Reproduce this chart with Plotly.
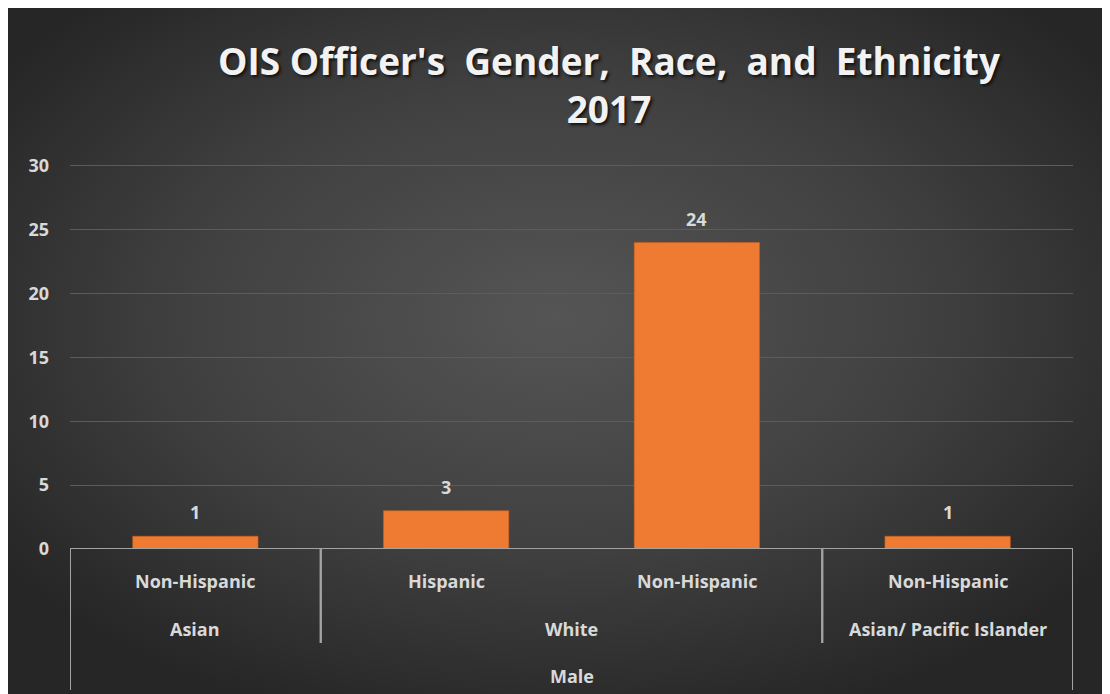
import base64

import plotly.graph_objects as go

# data
gender = ["Male", "Male", "Male", "Male"]
race = ["Asian", "White", "White", "Asian/ Pacific Islander"]
ethnicity = ["Non-Hispanic", "Hispanic", "Non-Hispanic", "Non-Hispanic"]
counts = [1, 3, 24, 1]
y_ticks = [0, 5, 10, 15, 20, 25, 30]

# page has an 8px body margin, so the figure starts at (8, 8)
OFF = 8
W, H = 1094, 686
YMAX = 30.15
ph = (549 - 166) * YMAX / 30
L, R = 70 - OFF, W - (1073 - OFF)
B = H - (549 - OFF)
T = H - B - ph
FONT = "'Open Sans', Lato, sans-serif"
TXT = "#d9d9d9"
LINE = "#a3a3a3"

levels = [ethnicity, race, gender]
keys = [" | ".join(k) for k in zip(gender, race, ethnicity)]


def px_y(py):
    # page pixel -> paper y
    return (H - B - (py - OFF)) / ph


def groups(depth):
    # runs of equal prefixes (outer levels down to `depth`)
    path = [tuple(lv[i] for lv in levels[depth:]) for i in range(len(keys))]
    out = []
    start = 0
    for i in range(1, len(keys) + 1):
        if i == len(keys) or path[i] != path[start]:
            out.append((path[start][0], start, i - 1))
            start = i
    return out


svg = (
    '<svg xmlns="http://www.w3.org/2000/svg" width="1000" height="600" '
    'preserveAspectRatio="none">'
    '<defs><radialGradient id="g" cx="50%" cy="45%" r="62%">'
    '<stop offset="0" stop-color="#555555"/>'
    '<stop offset="0.55" stop-color="#404040"/>'
    '<stop offset="1" stop-color="#262626"/>'
    '</radialGradient></defs>'
    '<rect width="1000" height="600" fill="url(#g)"/></svg>'
)
bg_src = "data:image/svg+xml;base64," + base64.b64encode(svg.encode()).decode()

pw = W - L - R

fig = go.Figure(go.Bar(
    x=keys, y=counts, width=0.5,
    marker=dict(color="#ee7b31", line=dict(color="#c95e18", width=0.6)),
    hoverinfo="y",
))

annotations = []
shapes = []

# value labels above the bars
for k, v in zip(keys, counts):
    annotations.append(dict(
        x=k, y=v, xref="x", yref="y", text=str(v), showarrow=False,
        yanchor="middle", yshift=24,
        font=dict(family=FONT, size=18, color=TXT, weight="bold"),
    ))

# category labels, three levels
for depth, ypx in ((0, 581), (1, 629), (2, 676)):
    for lab, s, e in groups(depth):
        annotations.append(dict(
            x=(s + e) / 2, y=px_y(ypx), xref="x", yref="paper",
            text=lab, showarrow=False, yanchor="middle",
            font=dict(family=FONT, size=18, color=TXT, weight="bold"),
        ))

# dividers between race groups and around the gender group
for lab, s, e in groups(1):
    for edge in (s - 0.5, e + 0.5):
        shapes.append(dict(type="line", xref="x", yref="paper",
                           x0=edge, x1=edge, y0=0, y1=px_y(643),
                           line=dict(color=LINE, width=2)))
for lab, s, e in groups(2):
    for edge in (s - 0.5, e + 0.5):
        shapes.append(dict(type="line", xref="x", yref="paper",
                           x0=edge, x1=edge, y0=0, y1=px_y(690),
                           line=dict(color=LINE, width=2)))
shapes.append(dict(type="line", xref="x", yref="y", x0=-0.5, x1=len(keys) - 0.5,
                   y0=0, y1=0, line=dict(color=LINE, width=2)))

fig.update_layout(
    width=W, height=H,
    margin=dict(l=L, r=R, t=T, b=B),
    paper_bgcolor="#262626",
    plot_bgcolor="rgba(0,0,0,0)",
    showlegend=False,
    title=dict(
        text="OIS Officer's  Gender,  Race,  and  Ethnicity<br>2017",
        x=(609 - OFF) / W, xanchor="center",
        y=1 - (75 - OFF) / H, yanchor="middle", yref="container",
        font=dict(family=FONT, size=37, color="#f2f2f2", weight="bold",
                  shadow="2px 2px 3px #111111"),
    ),
    images=[dict(source=bg_src, xref="paper", yref="paper",
                 x=-L / pw, y=1 + T / ph, sizex=W / pw, sizey=H / ph,
                 sizing="stretch", xanchor="left", yanchor="top",
                 layer="below")],
    annotations=annotations,
    shapes=shapes,
    xaxis=dict(showticklabels=False, showgrid=False, zeroline=False,
               showline=False, range=[-0.5, len(keys) - 0.5], fixedrange=True),
    yaxis=dict(range=[0, YMAX], tickvals=y_ticks, showgrid=True,
               gridcolor="#5c5c5c", gridwidth=1, zeroline=False,
               showline=False, ticklabelstandoff=20, fixedrange=True,
               tickfont=dict(family=FONT, size=18, color=TXT, weight="bold")),
)

fig.write_html("out.html")
